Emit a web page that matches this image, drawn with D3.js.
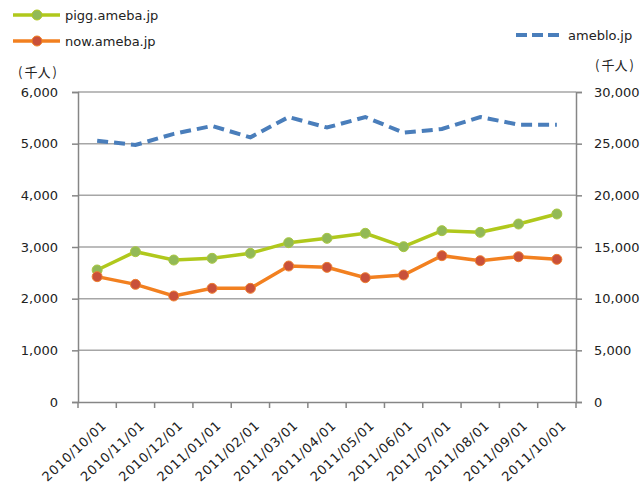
<!DOCTYPE html>
<html><head><meta charset="utf-8">
<script src="https://cdn.jsdelivr.net/npm/d3@7"></script>
<style>body{margin:0;background:#fff}svg{display:block}</style>
</head><body>
<script>
const categories = ["2010/10/01","2010/11/01","2010/12/01","2011/01/01","2011/02/01","2011/03/01","2011/04/01","2011/05/01","2011/06/01","2011/07/01","2011/08/01","2011/09/01","2011/10/01"];
const pigg = [2555,2909,2748,2781,2878,3084,3168,3265,3006,3316,3284,3445,3639];
const now = [2426,2277,2052,2200,2200,2632,2606,2406,2458,2832,2735,2812,2761];
const ameblo = [25290,24870,25950,26710,25610,27580,26560,27580,26060,26420,27580,26840,26840];
const leftTicks = [0,1000,2000,3000,4000,5000,6000];
const rightTicks = [0,5000,10000,15000,20000,25000,30000];

const W=643,H=486;
const m={l:78,r:576,t:92,b:402};
const font="'DejaVu Sans', Verdana, sans-serif";
const svg=d3.select("body").append("svg").attr("width",W).attr("height",H);
const x=d3.scaleBand().domain(categories).range([m.l,m.r]);
const yL=d3.scaleLinear().domain([0,6000]).range([m.b,m.t]);
const yR=d3.scaleLinear().domain([0,30000]).range([m.b,m.t]);
const cx=d=>x(d)+x.bandwidth()/2;

// gridlines
svg.append("g").selectAll("line").data(leftTicks.filter(v=>v>0)).join("line")
 .attr("x1",m.l).attr("x2",m.r).attr("y1",d=>yL(d)).attr("y2",d=>yL(d))
 .attr("stroke","#a6a6a6").attr("stroke-width",1.5);

// left axis
const gl=svg.append("g").attr("transform",`translate(${m.l},0)`)
 .call(d3.axisLeft(yL).tickValues(leftTicks).tickSize(6).tickPadding(14).tickFormat(d3.format(",")));
// right axis
const gr=svg.append("g").attr("transform",`translate(${m.r},0)`)
 .call(d3.axisRight(yR).tickValues(rightTicks).tickSize(6).tickPadding(12).tickFormat(d3.format(",")));
// bottom axis
const gb=svg.append("g").attr("transform",`translate(0,${m.b})`)
 .call(d3.axisBottom(x).tickSize(0).tickFormat(d=>d));
// boundary ticks
svg.append("g").selectAll("line").data(d3.range(categories.length+1)).join("line")
 .attr("x1",i=>m.l+i*x.step()).attr("x2",i=>m.l+i*x.step())
 .attr("y1",m.b).attr("y2",m.b+6).attr("stroke","#868686").attr("stroke-width",1.5);

[gl,gr,gb].forEach(g=>{
 g.selectAll(".domain").attr("stroke","#868686").attr("stroke-width",1.5);
 g.selectAll(".tick line").attr("stroke","#868686").attr("stroke-width",1.5);
 g.selectAll("text").attr("font-family",font).attr("font-size",13).attr("fill","#222");
});
gb.selectAll(".tick text").attr("x",0).attr("y",0).attr("dy","0.35em")
 .attr("text-anchor","end").attr("letter-spacing","0.7px")
 .attr("transform","translate(7,21) rotate(-43)");

// lines
const lineL=d3.line().x((d,i)=>cx(categories[i])).y(d=>yL(d));
const lineR=d3.line().x((d,i)=>cx(categories[i])).y(d=>yR(d));
svg.append("path").attr("d",lineR(ameblo)).attr("fill","none").attr("stroke","#4a7ebb").attr("stroke-width",4).attr("stroke-dasharray","11,6");
svg.append("path").attr("d",lineL(pigg)).attr("fill","none").attr("stroke","#b0c81c").attr("stroke-width",3.5);
svg.append("path").attr("d",lineL(now)).attr("fill","none").attr("stroke","#f28020").attr("stroke-width",3.5);
svg.append("g").selectAll("circle").data(pigg).join("circle")
 .attr("cx",(d,i)=>cx(categories[i])).attr("cy",d=>yL(d)).attr("r",5).attr("fill","#92b956").attr("stroke","#a9c840").attr("stroke-width",1);
svg.append("g").selectAll("circle").data(now).join("circle")
 .attr("cx",(d,i)=>cx(categories[i])).attr("cy",d=>yL(d)).attr("r",5).attr("fill","#c9503a").attr("stroke","#f08030").attr("stroke-width",1);

// legends
function legend(x0,y0,label,color,mark,fill,dash){
 const g=svg.append("g");
 g.append("line").attr("x1",x0).attr("x2",x0+47).attr("y1",y0).attr("y2",y0).attr("stroke",color).attr("stroke-width",dash?4:3.5).attr("stroke-dasharray",dash?"11,5":null);
 if(mark) g.append("circle").attr("cx",x0+24).attr("cy",y0).attr("r",5).attr("fill",fill).attr("stroke",color);
 g.append("text").attr("x",x0+52).attr("y",y0).attr("dy","0.35em").attr("font-family",font).attr("font-size",13).attr("fill","#222").text(label);
}
legend(13,15,"pigg.ameba.jp","#b0c81c",true,"#92b956");
legend(13,41,"now.ameba.jp","#f28020",true,"#c9503a");
legend(516,35,"ameblo.jp","#4a7ebb",false,null,true);

const cjk="'Noto Sans CJK JP', sans-serif";
function unit(x0,y0){
 const t=svg.append("text").attr("x",x0).attr("y",y0).attr("dy","0.35em").attr("font-family",cjk).attr("font-size",13).attr("fill","#222");
 t.append("tspan").text("(");
 t.append("tspan").attr("dx",2).text("千人");
 t.append("tspan").attr("dx",2).text(")");
}
unit(18,72);
unit(595,65);
</script>
</body></html>
